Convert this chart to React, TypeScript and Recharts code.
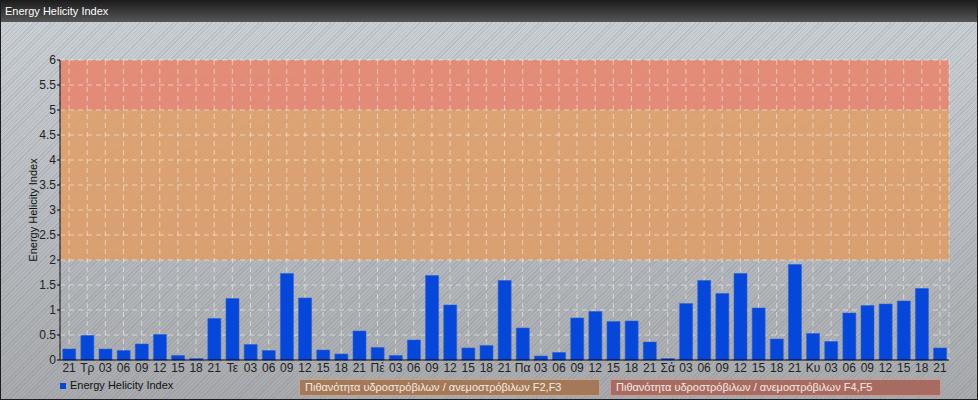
import React from 'react';
import {
  BarChart,
  Bar,
  XAxis,
  YAxis,
  CartesianGrid,
  ReferenceArea,
} from 'recharts';

// 3-hourly slots, day names mark the 00 UTC slot
const slotLabels = [
  '21',
  'Τρ', '03', '06', '09', '12', '15', '18', '21',
  'Τε', '03', '06', '09', '12', '15', '18', '21',
  'Πέ', '03', '06', '09', '12', '15', '18', '21',
  'Πα', '03', '06', '09', '12', '15', '18', '21',
  'Σά', '03', '06', '09', '12', '15', '18', '21',
  'Κυ', '03', '06', '09', '12', '15', '18', '21',
];

const ehiValues = [
  0.22,
  0.49, 0.22, 0.19, 0.32, 0.51, 0.09, 0.03, 0.83,
  1.23, 0.31, 0.19, 1.73, 1.24, 0.2, 0.12, 0.58,
  0.25, 0.09, 0.4, 1.69, 1.1, 0.24, 0.29, 1.59,
  0.64, 0.08, 0.15, 0.84, 0.97, 0.77, 0.78, 0.36,
  0.03, 1.13, 1.59, 1.33, 1.73, 1.04, 0.42, 1.91,
  0.53, 0.37, 0.94, 1.09, 1.12, 1.18, 1.43, 0.24,
];

const yTicks = [0, 0.5, 1, 1.5, 2, 2.5, 3, 3.5, 4, 4.5, 5, 5.5, 6];

// risk bands with their legend boxes
const riskBands = [
  { from: 2, to: 5, fill: '#e49a5c', boxFill: '#a3795a', boxBorder: '#c8a486', text: 'Πιθανότητα υδροστρόβιλων / ανεμοστρόβιλων F2,F3', boxLeft: 298, boxWidth: 301 },
  { from: 5, to: 6, fill: '#ec7c62', boxFill: '#a86b62', boxBorder: '#cc9990', text: 'Πιθανότητα υδροστρόβιλων / ανεμοστρόβιλων F4,F5', boxLeft: 609, boxWidth: 331 },
];

const SERIES_NAME = 'Energy Helicity Index';
const FONT = '"Liberation Sans", Arial, sans-serif';
const BAR_COLOR = '#0447da';

const data = slotLabels.map((label, i) => ({ i, label, ehi: ehiValues[i] }));

export default function App() {
  return (
    <div
      style={{
        position: 'absolute',
        left: 0,
        top: 0,
        width: 978,
        height: 400,
        boxSizing: 'border-box',
        border: '1px solid #1c1c1c',
        fontFamily: FONT,
        background:
          'repeating-linear-gradient(135deg, rgba(255,255,255,0) 0px, rgba(255,255,255,0) 2px, rgba(110,120,135,0.2) 2px, rgba(110,120,135,0.2) 3px), linear-gradient(to bottom, #cdd2d7, #a8aaad)',
        overflow: 'hidden',
      }}
    >
      <div
        style={{
          height: 21,
          background: 'linear-gradient(to bottom, #1e1e1e, #565656)',
          color: '#fff',
          fontSize: 11,
          lineHeight: '21px',
          paddingLeft: 4,
        }}
      >
        {SERIES_NAME}
      </div>

      <div style={{ position: 'absolute', left: -1, top: 21 }}>
        <BarChart
          width={978}
          height={378}
          data={data}
          margin={{ top: 38, right: 29, bottom: 20, left: 0 }}
          barCategoryGap="15%"
        >
          {riskBands.map((b) => (
            <ReferenceArea
              key={b.from}
              y1={b.from}
              y2={b.to}
              fill={b.fill}
              fillOpacity={0.78}
              stroke="none"
              ifOverflow="visible"
              zIndex={-200}
            />
          ))}
          {/* grid above the bands so the dashes stay visible over them */}
          <CartesianGrid stroke="#ffffff" strokeOpacity={0.5} strokeDasharray="5 4" zIndex={-100} />
          <XAxis
            dataKey="i"
            type="category"
            interval={0}
            height={20}
            tickLine={false}
            tickSize={2}
            tickMargin={1}
            axisLine={{ stroke: '#000' }}
            tickFormatter={(i: number) => slotLabels[i]}
            tick={{ fill: '#222', fontSize: 12, fontFamily: FONT }}
          />
          <YAxis
            width={60}
            domain={[0, 6]}
            ticks={yTicks}
            interval={0}
            tickSize={3}
            tickMargin={1}
            axisLine={{ stroke: '#000' }}
            tickLine={{ stroke: '#000' }}
            tick={{ fill: '#222', fontSize: 12, fontFamily: FONT }}
            label={{
              content: ({ viewBox }: any) => {
                const cy = viewBox.y + viewBox.height / 2;
                return (
                  <text
                    x={37}
                    y={cy}
                    transform={`rotate(-90 37 ${cy})`}
                    textAnchor="middle"
                    fill="#111"
                    fontSize={11}
                    fontFamily={FONT}
                  >
                    {SERIES_NAME}
                  </text>
                );
              },
            }}
          />
          <Bar
            dataKey="ehi"
            name={SERIES_NAME}
            fill={BAR_COLOR}
            stroke="#2e63d6"
            strokeWidth={0.6}
            isAnimationActive={false}
          />
        </BarChart>
      </div>

      {/* legend row */}
      <div style={{ position: 'absolute', left: 59, top: 378, fontSize: 11, color: '#111', display: 'flex', alignItems: 'center' }}>
        <span style={{ display: 'inline-block', width: 6, height: 6, background: BAR_COLOR, marginRight: 4, marginTop: 2 }} />
        {SERIES_NAME}
      </div>
      {riskBands.map((b) => (
        <div
          key={b.from}
          style={{
            position: 'absolute',
            left: b.boxLeft,
            top: 378,
            width: b.boxWidth,
            height: 17,
            boxSizing: 'border-box',
            background: b.boxFill,
            border: `1px solid ${b.boxBorder}`,
            color: '#f6ece2',
            fontSize: 11,
            lineHeight: '15px',
            paddingLeft: 5,
            whiteSpace: 'nowrap',
          }}
        >
          {b.text}
        </div>
      ))}
    </div>
  );
}
